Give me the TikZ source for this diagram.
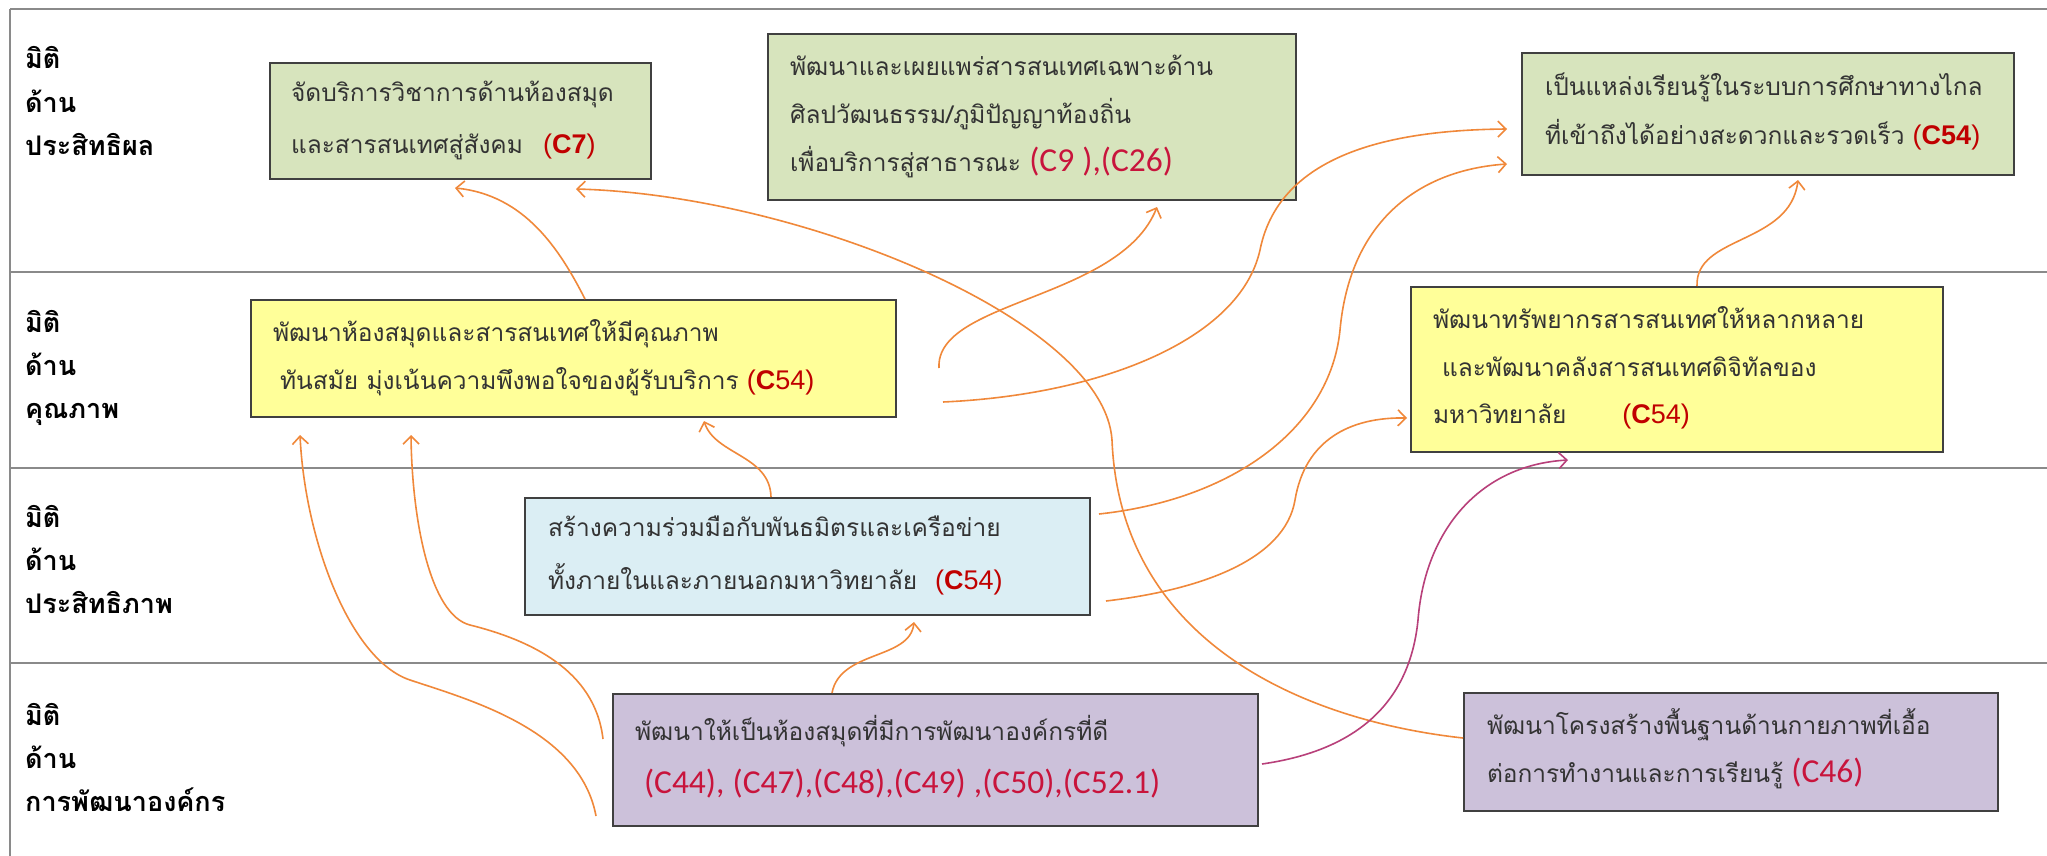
\documentclass[tikz,border=0pt]{standalone}
\usepackage{fontspec}
\usetikzlibrary{arrows.meta}
\newfontfamily\thai[Script=Thai]{Loma}
\newfontfamily\arial{Liberation Sans}
\newfontfamily\calib{Carlito}
\definecolor{gfill}{HTML}{D7E4BD}
\definecolor{yfill}{HTML}{FFFF99}
\definecolor{bfill}{HTML}{DBEEF4}
\definecolor{pfill}{HTML}{CCC1DA}
\definecolor{boxline}{HTML}{404040}
\definecolor{txtgray}{HTML}{333333}
\definecolor{framegray}{HTML}{8A8A8A}
\definecolor{codered}{HTML}{C00000}
\definecolor{codecrim}{HTML}{C8143C}
\definecolor{arrorange}{HTML}{F0883A}
\definecolor{arrmag}{HTML}{B8407A}
\newcommand\ls{\rule[-17pt]{0pt}{47pt}}
\newcommand\lsl{\rule[-14pt]{0pt}{40pt}}
\newcommand\bxl[1]{\mbox{\ls#1}}
\newcommand\codeA[1]{{\arial\fontsize{27}{40}\selectfont\color{codered}#1}}
\newcommand\codeB[1]{{\calib\fontsize{33.5}{40}\selectfont\color{codecrim}#1}}
\begin{document}
\begin{tikzpicture}[x=1pt,y=-1pt,
  frameline/.style={draw=framegray,line width=2.5pt},
  box/.style={draw=boxline,line width=2pt,anchor=north west,align=left,inner ysep=0pt,text=txtgray},
  lab/.style={anchor=west,align=left,inner sep=0pt,font=\thai\bfseries\fontsize{27}{43}\selectfont},
  conn/.style={draw=arrorange,line width=1.6pt,-{Straight Barb[length=8pt,width=16pt]}},
  connm/.style={conn,draw=arrmag}]
\useasboundingbox (0,0) rectangle (2047,856);
\fill[white] (0,0) rectangle (2047,856);
% frame
\draw[frameline] (10,9) -- (2047,9);
\draw[frameline] (10,272) -- (2047,272);
\draw[frameline] (10,468) -- (2047,468);
\draw[frameline] (10,663) -- (2047,663);
\draw[frameline] (10,9) -- (10,856);
% labels
\node[lab] (L1) at (25,106) {\lsl มิติ\\ \lsl ด้าน\\ \lsl ประสิทธิผล};
\node[lab] (L2) at (25,369) {\lsl มิติ\\ \lsl ด้าน\\ \lsl คุณภาพ};
\node[lab] (L3) at (25,564) {\lsl มิติ\\ \lsl ด้าน\\ \lsl ประสิทธิภาพ};
\node[lab] (L4) at (25,762) {\lsl มิติ\\ \lsl ด้าน\\ \lsl การพัฒนาองค์กร};
% boxes
\node[box,fill=gfill,minimum width=381pt,minimum height=116pt,text width=339pt,inner xsep=21pt,font=\thai\fontsize{24.5}{52}\selectfont] (A) at (269,62)
 {\bxl{จัดบริการวิชาการด้านห้องสมุด}\\ \bxl{และสารสนเทศสู่สังคม\hspace{20pt}\codeA{(\textbf{C7})}}};
\node[box,fill=gfill,minimum width=528pt,minimum height=166pt,text width=484pt,inner xsep=22pt,font=\thai\fontsize{24.5}{48}\selectfont] (B) at (767,33)
 {\bxl{พัฒนาและเผยแพร่สารสนเทศเฉพาะด้าน}\\ \bxl{ศิลปวัฒนธรรม/ภูมิปัญญาท้องถิ่น}\\ \bxl{เพื่อบริการสู่สาธารณะ \codeB{(C9 ),(C26)}}};
\node[box,fill=gfill,minimum width=492pt,minimum height=122pt,text width=446pt,inner xsep=23pt,font=\thai\fontsize{24.5}{49}\selectfont] (C) at (1521,52)
 {\bxl{เป็นแหล่งเรียนรู้ในระบบการศึกษาทางไกล}\\ \bxl{ที่เข้าถึงได้อย่างสะดวกและรวดเร็ว \codeA{(\textbf{C54})}}};
\node[box,fill=yfill,minimum width=645pt,minimum height=117pt,text width=601pt,inner xsep=22pt,font=\thai\fontsize{24.5}{48}\selectfont] (D) at (250,299)
 {\bxl{พัฒนาห้องสมุดและสารสนเทศให้มีคุณภาพ}\\ \bxl{\hspace{7pt}ทันสมัย มุ่งเน้นความพึงพอใจของผู้รับบริการ \codeA{(\textbf{C}54)}}};
\node[box,fill=yfill,minimum width=532pt,minimum height=165pt,text width=488pt,inner xsep=22pt,font=\thai\fontsize{24.5}{47.5}\selectfont] (E) at (1410,286)
 {\bxl{พัฒนาทรัพยากรสารสนเทศให้หลากหลาย}\\ \bxl{\hspace{9pt}และพัฒนาคลังสารสนเทศดิจิทัลของ}\\ \bxl{มหาวิทยาลัย\hspace{56pt}\codeA{(\textbf{C}54)}}};
\node[box,fill=bfill,minimum width=565pt,minimum height=117pt,text width=519pt,inner xsep=23pt,font=\thai\fontsize{24.5}{53}\selectfont] (F) at (524,497)
 {\bxl{สร้างความร่วมมือกับพันธมิตรและเครือข่าย}\\ \bxl{ทั้งภายในและภายนอกมหาวิทยาลัย\hspace{18pt}\codeA{(\textbf{C}54)}}};
\node[box,fill=pfill,minimum width=645pt,minimum height=132pt,text width=601pt,inner xsep=22pt,font=\thai\fontsize{24.5}{53}\selectfont] (G) at (612,693)
 {\bxl{พัฒนาให้เป็นห้องสมุดที่มีการพัฒนาองค์กรที่ดี}\\ \bxl{\hspace{9pt}\codeB{(C44), (C47),(C48),(C49) ,(C50),(C52.1)}}};
\node[box,fill=pfill,minimum width=534pt,minimum height=118pt,text width=488pt,inner xsep=23pt,font=\thai\fontsize{24.5}{48}\selectfont] (H) at (1463,692)
 {\bxl{พัฒนาโครงสร้างพื้นฐานด้านกายภาพที่เอื้อ}\\ \bxl{ต่อการทำงานและการเรียนรู้ \codeB{(C46)}}};
% connectors
\draw[conn] ([xshift=335pt]D.north west) .. controls (560,250) and (525,195) .. ([xshift=186pt,yshift=-8pt]A.south west);
\draw[conn] ([yshift=14pt]H.west) .. controls (1300,720) and (1120,640) .. (1112,440) .. controls (1104,320) and (800,195) .. ([xshift=307pt,yshift=-9pt]A.south west);
\draw[conn] ([xshift=42pt,yshift=-9.5pt]D.east) .. controls (935,300) and (1120,300) .. ([xshift=390pt,yshift=-6pt]B.south west);
\draw[conn] ([xshift=46pt,yshift=-43.5pt]D.east) .. controls (1100,395) and (1240,340) .. (1260,250) .. controls (1280,150) and (1400,130) .. ([xshift=-14pt,yshift=-15pt]C.west);
\draw[conn] ([xshift=8pt,yshift=42.5pt]F.east) .. controls (1230,500) and (1330,430) .. (1340,330) .. controls (1350,220) and (1420,170) .. ([xshift=-14pt,yshift=-50pt]C.west);
\draw[conn] ([xshift=15pt,yshift=-44.5pt]F.east) .. controls (1200,590) and (1285,560) .. (1295,500) .. controls (1305,440) and (1350,417) .. ([xshift=-3pt,yshift=-48.5pt]E.west);
\draw[conn] ([xshift=220pt]G.north west) .. controls (840,650) and (910,660) .. ([xshift=390pt,yshift=-6pt]F.south west);
\draw[conn] ([xshift=247pt]F.north west) .. controls (770,455) and (715,455) .. ([xshift=454pt,yshift=-3pt]D.south west);
\draw[conn] ([xshift=-16pt,yshift=-56pt]G.west) .. controls (580,730) and (470,700) .. (410,680) .. controls (350,660) and (305,540) .. ([xshift=50pt,yshift=-17pt]D.south west);
\draw[conn] ([xshift=-9pt,yshift=21pt]G.west) .. controls (595,670) and (530,640) .. (470,625) .. controls (430,615) and (412,520) .. ([xshift=161pt,yshift=-17pt]D.south west);
\draw[connm] ([xshift=3pt,yshift=-4pt]G.east) .. controls (1360,750) and (1410,700) .. (1418,620) .. controls (1425,530) and (1480,465) .. ([xshift=158pt,yshift=-7pt]E.south west);
\draw[conn] ([xshift=287pt]E.north west) .. controls (1695,235) and (1790,245) .. ([xshift=277pt,yshift=-4pt]C.south west);
\end{tikzpicture}
\end{document}
